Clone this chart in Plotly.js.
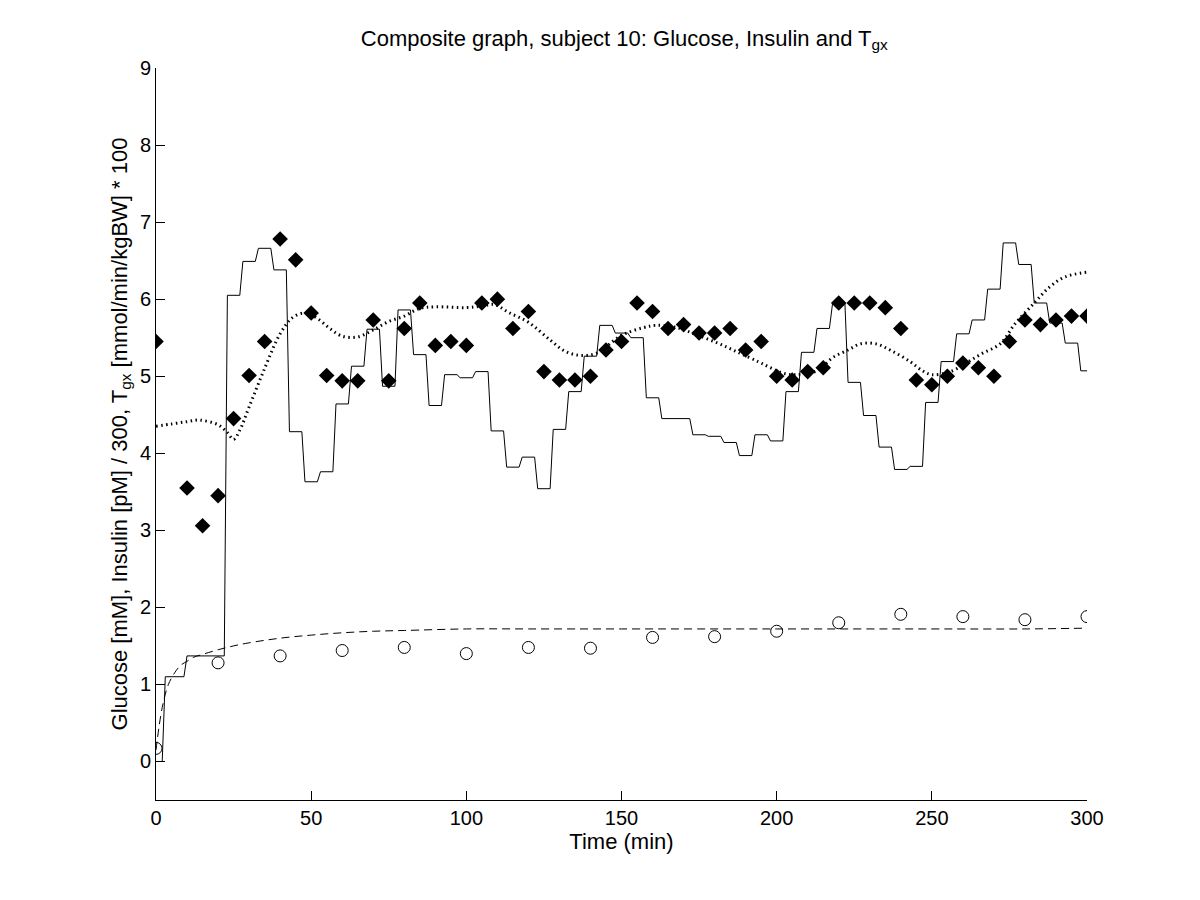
<!DOCTYPE html>
<html>
<head>
<meta charset="utf-8">
<script src="https://cdn.plot.ly/plotly-3.0.1.min.js"></script>
<style>
  body { margin: 0; background: #ffffff; }
  #chart { width: 1200px; height: 900px; }
</style>
</head>
<body>
<div id="chart"></div>
<script>
// glucose samples (open circles), every 20 min
var glucoseTime = [0, 20, 40, 60, 80, 100, 120, 140, 160, 180, 200, 220, 240, 260, 280, 300];
var glucoseVal = [0.17, 1.28, 1.37, 1.44, 1.48, 1.40, 1.48, 1.47, 1.61, 1.62, 1.69, 1.80, 1.91, 1.88, 1.84, 1.88];

// glucose model (dashed)
var glucoseModelTime = [0, 2, 4, 6, 8, 10, 12, 15, 20, 25, 30, 40, 50, 60, 70, 80, 100, 120, 150, 200, 250, 280, 300];
var glucoseModelVal = [0.15, 0.7, 1.0, 1.15, 1.25, 1.3, 1.35, 1.39, 1.45, 1.5, 1.54, 1.6, 1.64, 1.67, 1.69, 1.7, 1.72, 1.72, 1.72, 1.72, 1.72, 1.72, 1.73];

// insulin / 300 samples (filled diamonds)
var insulinTime = [0, 10, 15, 20, 25, 30, 35, 40, 45, 50, 55, 60, 65, 70, 75, 80, 85, 90, 95, 100,
  105, 110, 115, 120, 125, 130, 135, 140, 145, 150, 155, 160, 165, 170, 175, 180, 185, 190, 195, 200,
  205, 210, 215, 220, 225, 230, 235, 240, 245, 250, 255, 260, 265, 270, 275, 280, 285, 290, 295, 300];
var insulinVal = [5.45, 3.55, 3.06, 3.45, 4.45, 5.01, 5.45, 6.78, 6.51, 5.82, 5.01, 4.94, 4.94, 5.73, 4.94, 5.62, 5.95, 5.40, 5.45, 5.40,
  5.95, 6.0, 5.62, 5.84, 5.06, 4.95, 4.95, 5.0, 5.34, 5.45, 5.95, 5.84, 5.62, 5.67, 5.56, 5.56, 5.62, 5.34, 5.45, 5.0,
  4.95, 5.06, 5.11, 5.95, 5.95, 5.95, 5.89, 5.62, 4.95, 4.89, 5.0, 5.17, 5.11, 5.0, 5.45, 5.73, 5.67, 5.73, 5.78, 5.78];

// insulin model (dotted)
var insulinModelTime = [0, 5, 10, 14, 20, 23, 25, 27, 30, 35, 40, 44, 48, 52, 56, 60, 65, 70, 75, 80, 85, 90, 100,
  105, 109, 114, 120, 127, 132, 137, 142, 150, 157, 161, 168, 174, 181, 187, 194, 198, 202, 206, 213, 218, 223,
  227, 232, 237, 243, 247, 250, 256, 261, 266, 272, 277, 283, 288, 293, 300];
var insulinModelVal = [4.35, 4.38, 4.41, 4.43, 4.37, 4.27, 4.18, 4.3, 4.6, 5.1, 5.55, 5.76, 5.82, 5.75, 5.62, 5.52, 5.51, 5.6, 5.71, 5.78, 5.88, 5.9, 5.89,
  5.91, 5.93, 5.82, 5.7, 5.47, 5.32, 5.27, 5.3, 5.53, 5.63, 5.66, 5.63, 5.54, 5.43, 5.32, 5.19, 5.11, 5.04, 5.02, 5.07, 5.24, 5.34,
  5.42, 5.42, 5.33, 5.19, 5.07, 5.02, 5.06, 5.17, 5.29, 5.42, 5.69, 5.95, 6.16, 6.29, 6.35];

// T_gx * 100 (piecewise constant, solid)
var tgxStart = [0, 3, 10, 23, 28, 33, 38, 43, 48, 53, 58, 63, 68, 73, 78, 83, 88, 93, 98, 103,
  108, 113, 118, 123, 128, 133, 138, 143, 148, 153, 158, 163, 168, 173, 178, 183, 188, 193, 198, 203,
  208, 213, 218, 223, 228, 233, 238, 243, 248, 253, 258, 263, 268, 273, 278, 283, 288, 293, 298];
var tgxLevel = [0, 1.1, 1.37, 6.05, 6.49, 6.66, 6.38, 4.28, 3.63, 3.76, 4.64, 5.13, 5.61, 4.87, 5.86, 5.28, 4.62, 5.02, 4.98, 5.06,
  4.29, 3.82, 3.95, 3.54, 4.31, 4.80, 5.26, 5.66, 5.56, 5.50, 4.72, 4.45, 4.45, 4.24, 4.22, 4.14, 3.97, 4.24, 4.16, 4.80,
  5.31, 5.62, 5.94, 4.92, 4.49, 4.08, 3.79, 3.83, 4.66, 5.19, 5.55, 5.73, 6.13, 6.73, 6.45, 5.95, 5.69, 5.43, 5.07];
var tEnd = 300;

var stepX = [], stepY = [];
for (var i = 0; i < tgxStart.length; i++) {
  var end = (i < tgxStart.length - 1) ? tgxStart[i + 1] - 1 : tEnd;
  stepX.push(tgxStart[i], end);
  stepY.push(tgxLevel[i], tgxLevel[i]);
}

var font = {family: 'Liberation Sans, Arial, sans-serif', size: 20, color: '#000000'};
var titleFont = {family: 'Liberation Sans, Arial, sans-serif', size: 22, color: '#000000'};

var traces = [
  {
    type: 'scatter', mode: 'lines', x: stepX, y: stepY,
    line: {color: '#000000', width: 1}
  },
  {
    type: 'scatter', mode: 'lines', x: glucoseModelTime, y: glucoseModelVal,
    line: {color: '#000000', width: 1, dash: '8px,5px', shape: 'spline'}
  },
  {
    type: 'scatter', mode: 'lines', x: insulinModelTime, y: insulinModelVal,
    line: {color: '#000000', width: 3, dash: '1.5px,3.5px', shape: 'spline'}
  },
  {
    type: 'scatter', mode: 'markers', x: glucoseTime, y: glucoseVal,
    marker: {symbol: 'circle-open', size: 12, color: '#000000', line: {width: 1, color: '#000000'}}
  },
  {
    type: 'scatter', mode: 'markers', x: insulinTime, y: insulinVal,
    marker: {symbol: 'diamond', size: 12, color: '#000000'}
  }
];

var layout = {
  width: 1200,
  height: 900,
  paper_bgcolor: '#ffffff',
  plot_bgcolor: '#ffffff',
  showlegend: false,
  font: font,
  margin: {l: 156, r: 113, t: 68, b: 100},
  title: {
    text: 'Composite graph, subject 10: Glucose, Insulin and T<sub>gx</sub>',
    font: titleFont,
    x: 0.503, xref: 'paper', xanchor: 'center',
    y: 0.958, yanchor: 'middle'
  },
  xaxis: {
    range: [0, 300],
    tickvals: [0, 50, 100, 150, 200, 250, 300],
    ticks: 'inside', ticklen: 9, tickcolor: '#000000', tickwidth: 1,
    showline: true, linecolor: '#000000', linewidth: 1, mirror: false,
    showgrid: false, zeroline: false,
    tickfont: font,
    title: {text: 'Time (min)', font: titleFont, standoff: 2}
  },
  yaxis: {
    range: [-0.5, 9],
    tickvals: [0, 1, 2, 3, 4, 5, 6, 7, 8, 9],
    ticks: 'inside', ticklen: 9, tickcolor: '#000000', tickwidth: 1,
    showline: true, linecolor: '#000000', linewidth: 1, mirror: false,
    showgrid: false, zeroline: false,
    tickfont: font,
    title: {text: 'Glucose [mM], Insulin [pM] / 300, T<sub>gx</sub> [mmol/min/kgBW] * 100', font: titleFont, standoff: 6}
  }
};

Plotly.newPlot('chart', traces, layout, {displayModeBar: false, staticPlot: true});
</script>
</body>
</html>
